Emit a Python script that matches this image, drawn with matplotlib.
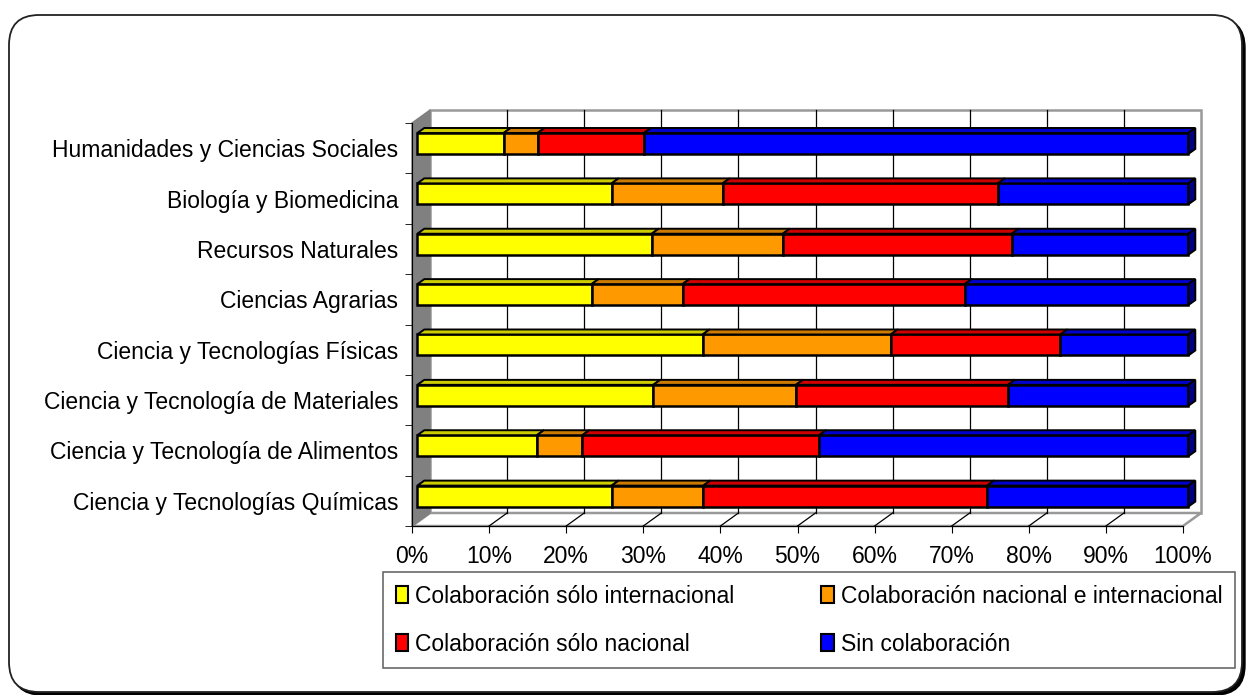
import matplotlib.pyplot as plt
import numpy as np
from matplotlib.patches import Polygon, Patch, FancyBboxPatch

plt.rcParams['font.family'] = ['Liberation Sans', 'DejaVu Sans']

# Datos (porcentajes por área, de arriba a abajo)
categorias = ['Humanidades y Ciencias Sociales', 'Biología y Biomedicina', 'Recursos Naturales',
              'Ciencias Agrarias', 'Ciencia y Tecnologías Físicas', 'Ciencia y Tecnología de Materiales',
              'Ciencia y Tecnología de Alimentos', 'Ciencia y Tecnologías Químicas']
solo_internacional = [11.2, 25.2, 30.4, 22.6, 37.0, 30.6, 15.5, 25.2]
nacional_e_internacional = [4.4, 14.4, 17.0, 11.8, 24.4, 18.5, 5.9, 11.9]
solo_nacional = [13.8, 35.7, 29.7, 36.6, 22.0, 27.5, 30.7, 36.8]
sin_colaboracion = [70.6, 24.7, 22.9, 29.0, 16.6, 23.4, 47.9, 26.1]

series = ['Colaboración sólo internacional', 'Colaboración nacional e internacional',
          'Colaboración sólo nacional', 'Sin colaboración']
colores = ['#FFFF00', '#FF9900', '#FF0000', '#0000FF']
ticks_x = list(range(0, 101, 10))

FS = 16.5
W, H = 1251, 695
fig = plt.figure(figsize=(W / 100, H / 100), dpi=100)

# marco redondeado con sombra
sombra = FancyBboxPatch((0.12, 0.0), 12.33, 6.77, boxstyle='round,pad=0,rounding_size=0.3',
                        transform=fig.dpi_scale_trans, facecolor='black', edgecolor='black', zorder=-3)
marco = FancyBboxPatch((0.09, 0.03), 12.33, 6.77, boxstyle='round,pad=0,rounding_size=0.3',
                       transform=fig.dpi_scale_trans, facecolor='white', edgecolor='#222222',
                       linewidth=1.3, zorder=-2)
fig.patches.extend([sombra, marco])

ax = fig.add_axes([412 / W, 1 - 526 / H, (1183 - 412) / W, (526 - 123) / H])
ax.set_xlim(0, 100)
ax.set_ylim(-0.5, 7.5)
ax.patch.set_visible(False)

kx = 100 / 771.0   # unidades de datos por pixel
ky = 8 / 403.0
bx, by = 18 * kx, 13 * ky     # profundidad de la pared de fondo
ox, oy = 5.3 * kx, 4.7 * ky   # desplazamiento de las barras
dx, dy = 7 * kx, 5 * ky       # profundidad de cada barra
alto = 21 * ky

# pared de fondo, suelo y pared izquierda
ax.add_patch(Polygon([(bx, -0.5 + by), (100 + bx, -0.5 + by), (100 + bx, 7.5 + by), (bx, 7.5 + by)],
                     closed=True, facecolor='white', edgecolor='#999999', lw=1.8, zorder=0.5,
                     clip_on=False))
ax.add_patch(Polygon([(0, -0.5), (100, -0.5), (100 + bx, -0.5 + by), (bx, -0.5 + by)],
                     closed=True, facecolor='white', edgecolor='#999999', lw=1.8, zorder=0.6,
                     clip_on=False))
for v in ticks_x[1:-1]:
    ax.plot([v + bx, v + bx], [-0.5 + by, 7.5 + by], color='black', lw=0.9, zorder=0.7, clip_on=False)
    ax.plot([v, v + bx], [-0.5, -0.5 + by], color='black', lw=0.9, zorder=0.7, clip_on=False)
ax.add_patch(Polygon([(0, -0.5), (0, 7.5), (bx, 7.5 + by), (bx, -0.5 + by)],
                     closed=True, facecolor='#808080', edgecolor='#808080', lw=1, zorder=0.8,
                     clip_on=False))

# barras apiladas con efecto 3D
valores = np.array([solo_internacional, nacional_e_internacional, solo_nacional, sin_colaboracion])
n = len(categorias)
ys = np.arange(n)[::-1]
for i in range(n):
    y = ys[i] + oy
    izq = 0.0
    for k in range(4):
        w = valores[k][i]
        c = np.array(plt.matplotlib.colors.to_rgb(colores[k]))
        ax.barh(y, w, left=izq + ox, height=alto, color=colores[k], edgecolor='black',
                linewidth=1.8, zorder=3, clip_on=False)
        x0, x1 = izq + ox, izq + w + ox
        yt = y + alto / 2
        ax.add_patch(Polygon([(x0, yt), (x1, yt), (x1 + dx, yt + dy), (x0 + dx, yt + dy)], closed=True,
                             facecolor=c * 0.8, edgecolor='black', lw=1.4, zorder=3.2, clip_on=False))
        if k == 3:
            yb = y - alto / 2
            ax.add_patch(Polygon([(x1, yb), (x1, yt), (x1 + dx, yt + dy), (x1 + dx, yb + dy)], closed=True,
                                 facecolor=c * 0.5, edgecolor='black', lw=1.4, zorder=3.2, clip_on=False))
        izq += w

# ejes
for s in ['top', 'right']:
    ax.spines[s].set_visible(False)
ax.spines['left'].set_color('black')
ax.spines['bottom'].set_color('black')
ax.set_xticks(ticks_x)
ax.set_xticklabels([f'{v}%' for v in ticks_x], fontsize=FS)
ax.tick_params(axis='x', direction='out', length=5, pad=9, color='black')
ax.set_yticks(ys)
ax.set_yticklabels(categorias, fontsize=FS)
ax.set_yticks(np.arange(-0.5, n, 1), minor=True)
ax.tick_params(axis='y', which='major', length=0, pad=10)
ax.tick_params(axis='y', which='minor', direction='out', length=5, color='black')

# leyenda
handles = [Patch(facecolor=c, edgecolor='black', linewidth=1.5) for c in colores]
orden = [0, 2, 1, 3]
fig.legend([handles[j] for j in orden], [series[j] for j in orden], ncol=2,
           loc='upper left', bbox_to_anchor=(383 / W, 1 - 666 / H, (1235 - 383) / W, (666 - 572) / H),
           mode='expand', fontsize=FS, frameon=True, fancybox=False, edgecolor='#444444',
           handlelength=0.55, handleheight=0.75, handletextpad=0.3, labelspacing=1.1,
           borderpad=0.55, borderaxespad=0, columnspacing=1.0)
fig.legends[0].get_frame().set_linewidth(1.2)

fig.savefig('out.png', dpi=100)
